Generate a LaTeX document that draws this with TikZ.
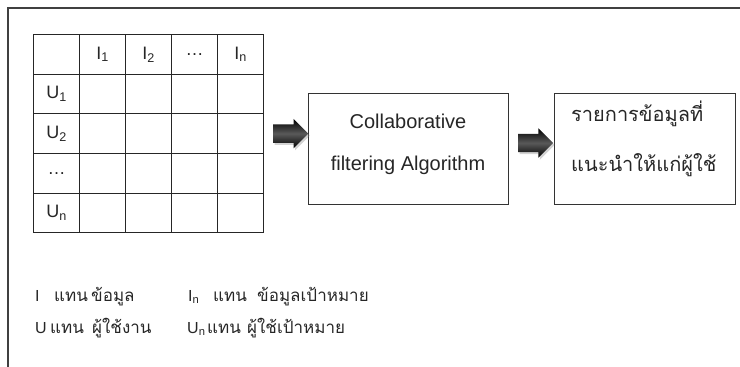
\documentclass[tikz,border=0pt]{standalone}
\usepackage{fontspec}
\setmainfont{Liberation Sans}
\newfontfamily\thaifont[Script=Thai]{Loma}
\usetikzlibrary{matrix,shapes.arrows,shadows,calc,positioning}

\tikzset{
  cell/.style={draw=black!85, line width=0.8pt, minimum width=46pt, minimum height=39.6pt,
    inner sep=0pt, anchor=center, font=\fontsize{18}{20}\selectfont, text=black!85},
  stagebox/.style={draw=black!80, line width=1pt, minimum height=111pt, inner sep=0pt, outer sep=0pt},
  boxtext/.style={inner sep=0pt, text=black!85},
  fatarrow/.style={single arrow, minimum height=35pt, minimum width=29pt,
    single arrow head extend=5.5pt, inner sep=9pt,
    top color=black, bottom color=black, middle color=black!65, draw=none,
    drop shadow={shadow xshift=1.5pt, shadow yshift=-2pt, opacity=0.35}},
  legend/.style={anchor=base west, inner sep=0pt, font=\fontsize{16}{18}\selectfont, text=black!85},
  thailegend/.style={legend, font=\thaifont\fontsize{17}{20}\selectfont}
}

\begin{document}
\begin{tikzpicture}[x=1pt,y=-1pt]
  \useasboundingbox (0,0) rectangle (740,367);
  % frame
  \draw[black!75, line width=1.6pt] (8,367) -- (8,8) -- (740,8);

  % rating table
  \matrix (tbl) [matrix of nodes, nodes in empty cells, nodes={cell},
    column sep=-0.8pt, row sep=-0.8pt, inner sep=0pt, anchor=north west] at (33,34) {
      & I\textsubscript{1} & I\textsubscript{2} & \dots & I\textsubscript{n} \\
    U\textsubscript{1} & & & & \\
    U\textsubscript{2} & & & & \\
    \dots & & & & \\
    U\textsubscript{n} & & & & \\
  };

  % processing stages
  \node (algo) [stagebox, minimum width=200pt] at (408,148.5) {};
  \node (algo-txt) [boxtext, align=center, font=\fontsize{20}{42}\selectfont]
    at ($(algo.center)+(0,-4.5)$) {Collaborative\\filtering Algorithm};
  \node (rec) [stagebox, minimum width=181pt, right=46pt of algo] {};
  \node (rec-txt) [boxtext, align=left, font=\thaifont\fontsize{20}{50}\selectfont,
    anchor=west] at ($(rec.west)+(17,-9.5)$) {รายการข้อมูลที่\\แนะนำให้แก่ผู้ใช้};

  \node (arr1) [fatarrow] at ($(tbl.east)!0.5!(algo.west |- tbl.east)$) {};
  \node (arr2) [fatarrow] at ($($(algo.east)!0.5!(rec.west)$)+(0,-5.5)$) {};

  % legend
  \node (leg-i)      [legend]     at (35,301)  {I};
  \node (leg-i-as)   [thailegend] at (54,301)  {แทน};
  \node (leg-i-th)   [thailegend] at (91,301)  {ข้อมูล};
  \node (leg-in)     [legend]     at (188,301) {I\textsubscript{n}};
  \node (leg-in-as)  [thailegend] at (213,301) {แทน};
  \node (leg-in-th)  [thailegend] at (257,301) {ข้อมูลเป้าหมาย};
  \node (leg-u)      [legend]     at (35,333)  {U};
  \node (leg-u-as)   [thailegend] at (50,333)  {แทน};
  \node (leg-u-th)   [thailegend] at (92,333)  {ผู้ใช้งาน};
  \node (leg-un)     [legend]     at (187,333) {U\textsubscript{n}};
  \node (leg-un-as)  [thailegend] at (207,333) {แทน};
  \node (leg-un-th)  [thailegend] at (247,333) {ผู้ใช้เป้าหมาย};
\end{tikzpicture}
\end{document}
